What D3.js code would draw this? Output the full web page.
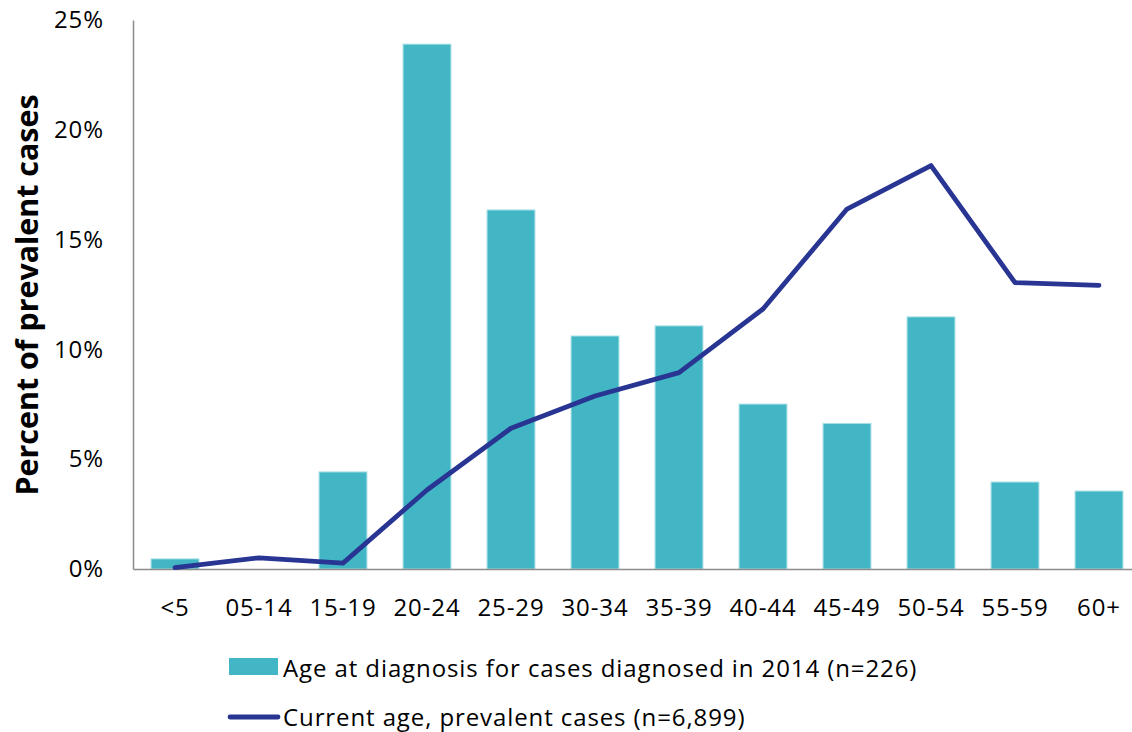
<!DOCTYPE html>
<html><head><meta charset="utf-8">
<script src="https://cdn.jsdelivr.net/npm/d3@7"></script>
<style>body{margin:0;background:#fff}svg{display:block}text{font-family:"Open Sans",sans-serif}</style>
</head><body><svg id="c" width="1132" height="732"></svg>
<script>
const categories = ["<5","05-14","15-19","20-24","25-29","30-34","35-39","40-44","45-49","50-54","55-59","60+"];
const diagnosisPct = [0.46, 0, 4.42, 23.9, 16.35, 10.61, 11.07, 7.51, 6.63, 11.48, 3.96, 3.55];
const prevalentPct = [0.06, 0.51, 0.27, 3.6, 6.41, 7.88, 8.94, 11.84, 16.39, 18.37, 13.04, 12.92];
const yTicks = [0, 5, 10, 15, 20, 25];
const seriesNames = ["Age at diagnosis for cases diagnosed in 2014 (n=226)", "Current age, prevalent cases (n=6,899)"];

(function(){
const svg = d3.select("#c");
const mLeft = 133, mRight = 1141, mTop = 20, mBottom = 569;
const x = d3.scaleBand().domain(categories).range([mLeft, mRight]).paddingInner(0.43).paddingOuter(0.215);
const y = d3.scaleLinear().domain([0, 25]).range([mBottom, mTop]);
const barColor = "#42B6C5", lineColor = "#283593";
const fs = 24, ls = 0.9;

// bars
svg.append("g").selectAll("rect").data(categories).join("rect")
  .attr("x", d => x(d)).attr("width", x.bandwidth())
  .attr("y", (d,i) => y(diagnosisPct[i])).attr("height", (d,i) => y(0) - y(diagnosisPct[i]))
  .attr("fill", barColor).attr("stroke", "#A8E0E6").attr("stroke-width", 1)
  .style("display", (d,i) => diagnosisPct[i] > 0 ? null : "none");

// axes
const yAxis = svg.append("g").attr("transform", `translate(${mLeft},0)`)
  .call(d3.axisLeft(y).tickValues(yTicks).tickSize(0).tickPadding(29).tickFormat(d => d + "%"));
yAxis.select(".domain").attr("stroke", "#8C8C8C").attr("stroke-width", 1.5);
yAxis.selectAll("text").attr("font-size", fs).attr("letter-spacing", ls).attr("fill", "#000");

const xAxis = svg.append("g").attr("transform", `translate(0,${mBottom})`)
  .call(d3.axisBottom(x).tickSize(0).tickPadding(30));
xAxis.select(".domain").attr("stroke", "#8C8C8C").attr("stroke-width", 1.5);
xAxis.selectAll("text").attr("font-size", fs).attr("letter-spacing", ls).attr("fill", "#000");

// line
const line = d3.line().x((d,i) => x(categories[i]) + x.bandwidth()/2).y(d => y(d));
svg.append("path").datum(prevalentPct).attr("d", line)
  .attr("fill", "none").attr("stroke", lineColor).attr("stroke-width", 4.8)
  .attr("stroke-linejoin", "round").attr("stroke-linecap", "round");

// y title
svg.append("text").attr("transform", "translate(38,295) rotate(-90)")
  .attr("text-anchor", "middle").attr("font-size", 30.4).attr("font-weight", "bold")
  .text("Percent of prevalent cases");

// legend
const lg = svg.append("g");
lg.append("rect").attr("x", 229).attr("y", 658).attr("width", 49).attr("height", 17).attr("fill", barColor);
lg.append("text").attr("x", 283).attr("y", 677).attr("font-size", fs).attr("letter-spacing", ls).text(seriesNames[0]);
lg.append("line").attr("x1", 230).attr("x2", 278).attr("y1", 717).attr("y2", 717)
  .attr("stroke", lineColor).attr("stroke-width", 4.8).attr("stroke-linecap", "round");
lg.append("text").attr("x", 283).attr("y", 726).attr("font-size", fs).attr("letter-spacing", ls).text(seriesNames[1]);
})();
</script></body></html>
